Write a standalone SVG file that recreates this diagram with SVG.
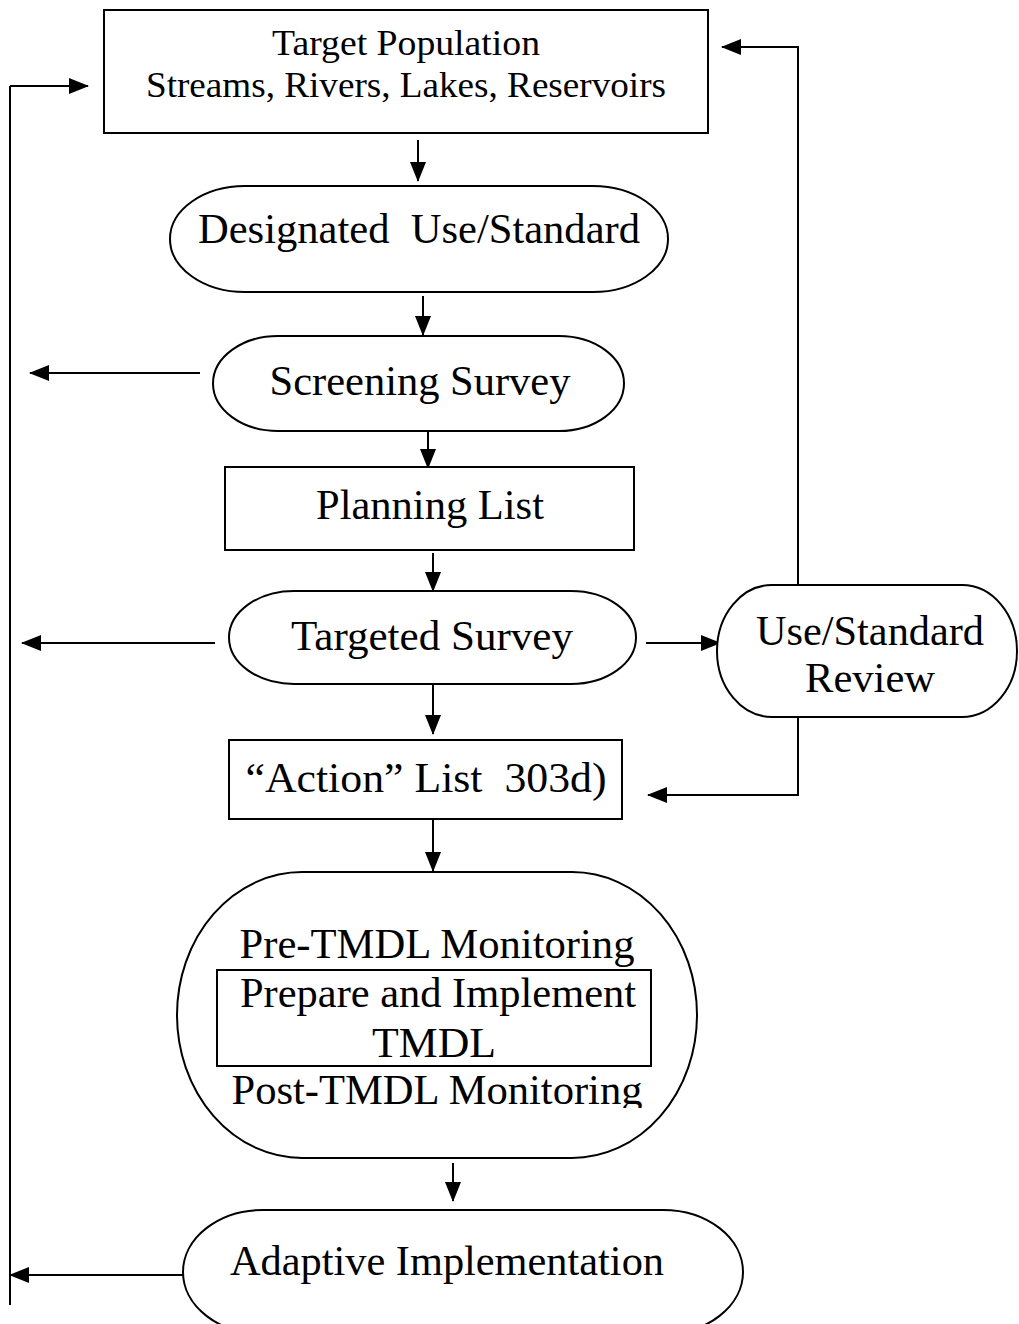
<svg xmlns="http://www.w3.org/2000/svg" width="1019" height="1324" viewBox="0 0 1019 1324">
  <style>
    .shape { fill: #ffffff; stroke: #000000; stroke-width: 2; }
    .line { fill: none; stroke: #000000; stroke-width: 2; }
    .label { font-family: "Liberation Serif", "Times New Roman", serif; font-size: 42px; fill: #000000; text-anchor: middle; }
    .small { font-size: 36px; }
  </style>
  <defs>
    <marker id="arrow" markerUnits="userSpaceOnUse" markerWidth="20" markerHeight="16" viewBox="0 0 20 16" refX="19" refY="8" orient="auto">
      <path d="M0,0 L20,8 L0,16 Z" fill="#000000"/>
    </marker>
    <!-- the last monitoring line is cut off just under its baseline -->
    <clipPath id="ovalClip">
      <rect x="170" y="1060" width="540" height="48"/>
    </clipPath>
  </defs>
  <rect width="1019" height="1324" fill="#ffffff"/>

  <g id="connectors">
    <!-- main downward flow -->
    <line class="line" x1="418" y1="140" x2="418" y2="181" marker-end="url(#arrow)"/>
    <line class="line" x1="423" y1="296" x2="423" y2="335" marker-end="url(#arrow)"/>
    <line class="line" x1="428" y1="432" x2="428" y2="468" marker-end="url(#arrow)"/>
    <line class="line" x1="433" y1="553" x2="433" y2="591" marker-end="url(#arrow)"/>
    <line class="line" x1="433" y1="683" x2="433" y2="734" marker-end="url(#arrow)"/>
    <line class="line" x1="433" y1="815" x2="433" y2="871" marker-end="url(#arrow)"/>
    <line class="line" x1="453" y1="1163" x2="453" y2="1201" marker-end="url(#arrow)"/>
    <!-- exits to the left -->
    <line class="line" x1="200" y1="373" x2="30" y2="373" marker-end="url(#arrow)"/>
    <line class="line" x1="215" y1="643" x2="22" y2="643" marker-end="url(#arrow)"/>
    <!-- targeted survey to use/standard review -->
    <line class="line" x1="646" y1="643" x2="720" y2="643" marker-end="url(#arrow)"/>
    <!-- review back up to target population -->
    <polyline class="line" points="798,585 798,47 722,47" marker-end="url(#arrow)"/>
    <!-- review down to action list -->
    <polyline class="line" points="798,717 798,795 648,795" marker-end="url(#arrow)"/>
    <!-- adaptive implementation loop back to the top -->
    <line class="line" x1="183" y1="1275" x2="10" y2="1275" marker-end="url(#arrow)"/>
    <line class="line" x1="10" y1="1305" x2="10" y2="86"/>
    <line class="line" x1="10" y1="86" x2="88" y2="86" marker-end="url(#arrow)"/>
  </g>

  <g id="target-population">
    <rect class="shape" x="104" y="10" width="604" height="123"/>
    <text class="label small" x="406" y="55" textLength="268" lengthAdjust="spacingAndGlyphs">Target Population</text>
    <text class="label small" x="406" y="97" textLength="520" lengthAdjust="spacingAndGlyphs">Streams, Rivers, Lakes, Reservoirs</text>
  </g>

  <g id="designated-use">
    <rect class="shape" x="170" y="186" width="498" height="106" rx="75" ry="53"/>
    <text class="label" x="419" y="243" textLength="442" lengthAdjust="spacingAndGlyphs" xml:space="preserve">Designated  Use/Standard</text>
  </g>

  <g id="screening-survey">
    <rect class="shape" x="213" y="336" width="411" height="95" rx="65" ry="47.5"/>
    <text class="label" x="420" y="395" textLength="301" lengthAdjust="spacingAndGlyphs">Screening Survey</text>
  </g>

  <g id="planning-list">
    <rect class="shape" x="225" y="467" width="409" height="83"/>
    <text class="label" x="430" y="519" textLength="228" lengthAdjust="spacingAndGlyphs">Planning List</text>
  </g>

  <g id="targeted-survey">
    <rect class="shape" x="229" y="591" width="407" height="93" rx="65" ry="46.5"/>
    <text class="label" x="432" y="650" textLength="282" lengthAdjust="spacingAndGlyphs">Targeted Survey</text>
  </g>

  <g id="use-standard-review">
    <rect class="shape" x="717" y="585" width="300" height="132" rx="55" ry="66"/>
    <text class="label" x="870" y="645" textLength="228" lengthAdjust="spacingAndGlyphs">Use/Standard</text>
    <text class="label" x="870" y="692" textLength="130" lengthAdjust="spacingAndGlyphs">Review</text>
  </g>

  <g id="action-list">
    <rect class="shape" x="229" y="740" width="393" height="79"/>
    <text class="label" x="426" y="792" textLength="361" lengthAdjust="spacingAndGlyphs" xml:space="preserve">“Action” List  303d)</text>
  </g>

  <g id="tmdl">
    <rect class="shape" x="177" y="872" width="520" height="286" rx="125" ry="143"/>
    <text class="label" x="437" y="958" textLength="395" lengthAdjust="spacingAndGlyphs">Pre-TMDL Monitoring</text>
    <rect class="shape" x="217" y="970" width="434" height="96" fill="none"/>
    <text class="label" x="438" y="1007" textLength="396" lengthAdjust="spacingAndGlyphs">Prepare and Implement</text>
    <text class="label" x="434" y="1057" textLength="124" lengthAdjust="spacingAndGlyphs">TMDL</text>
    <text class="label" x="437" y="1104" textLength="411" lengthAdjust="spacingAndGlyphs" clip-path="url(#ovalClip)">Post-TMDL Monitoring</text>
  </g>

  <g id="adaptive-implementation">
    <rect class="shape" x="183" y="1210" width="560" height="124" rx="80" ry="62"/>
    <text class="label" x="447" y="1275" textLength="434" lengthAdjust="spacingAndGlyphs">Adaptive Implementation</text>
  </g>
</svg>
